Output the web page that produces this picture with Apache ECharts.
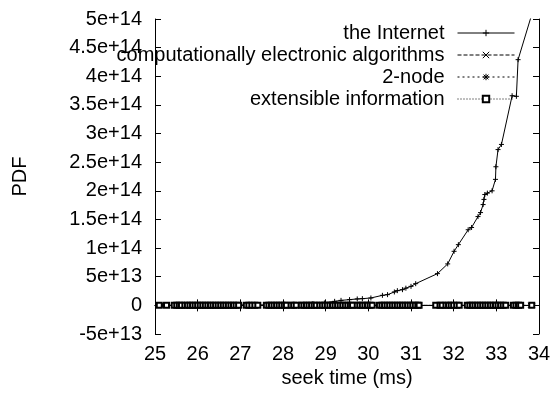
<!DOCTYPE html>
<html>
<head>
<meta charset="utf-8">
<script src="https://cdn.jsdelivr.net/npm/echarts@6/dist/echarts.min.js"></script>
<style>
  html, body { margin: 0; padding: 0; background: #fff; }
  #chart { width: 556px; height: 396px; }
</style>
</head>
<body>
<div id="chart"></div>
<script>
// series names as in the legend
var seriesNames = ['the Internet', 'computationally electronic algorithms', '2-node', 'extensible information'];

// the Internet: seek time (ms) and PDF
var internetX = [25.1, 25.6, 26.3, 27.0, 27.6, 28.0, 28.4, 28.7, 28.97, 29.21, 29.36, 29.56, 29.74, 29.86, 30.06,
  30.33, 30.45, 30.61, 30.68, 30.8, 30.88, 31.0, 31.11, 31.62, 31.86, 32.01, 32.11, 32.34, 32.42,
  32.57, 32.63, 32.69, 32.71, 32.73, 32.79, 32.9, 32.98, 32.99, 33.04, 33.12, 33.37, 33.47, 33.51, 33.92];
var internetY = [0.005e13, 0.01e13, 0.02e13, 0.04e13, 0.08e13, 0.12e13, 0.2e13, 0.3e13, 0.42e13, 0.7e13, 0.87e13, 1.0e13, 1.12e13, 1.17e13, 1.29e13,
  1.75e13, 1.87e13, 2.34e13, 2.57e13, 2.74e13, 3.0e13, 3.32e13, 3.79e13, 5.54e13, 7.24e13, 9.44e13, 10.6e13, 13.2e13, 13.6e13,
  15.5e13, 16.2e13, 17.6e13, 18.5e13, 19.35e13, 19.6e13, 20.0e13, 22.0e13, 24.2e13, 27.2e13, 28.1e13, 36.6e13, 36.5e13, 42.9e13, 53e13];

// the three flat series, all at PDF 0 (only seek times differ)
var algorithmsX = [25.13, 25.48, 25.58, 25.73, 25.85, 25.97, 26.09, 26.21, 26.33, 26.45, 26.57, 26.69, 26.81, 26.93,
  27.17, 27.30, 27.64, 27.76, 27.88, 28.00, 28.22, 28.46, 28.58, 28.70, 28.89, 29.01, 29.13, 29.25, 29.37, 29.49,
  29.61, 29.77, 29.89, 30.01, 30.29, 30.41, 30.53, 30.65, 30.77, 30.89, 31.01, 31.13, 31.62, 31.85, 31.97, 32.10,
  32.35, 32.47, 32.59, 32.71, 32.83, 32.95, 33.07, 33.19, 33.43, 33.55, 33.80];
var nodeX = [25.20, 25.54, 25.66, 25.79, 25.91, 26.03, 26.15, 26.27, 26.39, 26.51, 26.63, 26.75, 26.87, 26.99,
  27.24, 27.38, 27.70, 27.82, 27.94, 28.06, 28.28, 28.52, 28.64, 28.76, 28.95, 29.07, 29.19, 29.31, 29.43, 29.55,
  29.68, 29.83, 29.95, 30.07, 30.35, 30.47, 30.59, 30.71, 30.83, 30.95, 31.07, 31.17, 31.70, 31.91, 32.04, 32.41,
  32.53, 32.65, 32.77, 32.89, 33.01, 33.13, 33.49, 33.86];
var extensibleX = [25.10, 25.27, 25.45, 25.51, 25.57, 25.62, 25.70, 25.76, 25.82, 25.88, 25.94, 26.00, 26.06, 26.12,
  26.18, 26.24, 26.30, 26.36, 26.42, 26.48, 26.54, 26.60, 26.66, 26.72, 26.78, 26.84, 26.90, 26.96, 27.14, 27.20,
  27.27, 27.34, 27.41, 27.61, 27.67, 27.73, 27.79, 27.85, 27.91, 27.97, 28.03, 28.08, 28.19, 28.25, 28.31, 28.43,
  28.49, 28.55, 28.61, 28.67, 28.73, 28.78, 28.86, 28.92, 28.98, 29.04, 29.10, 29.16, 29.22, 29.28, 29.34, 29.40,
  29.46, 29.52, 29.58, 29.63, 29.74, 29.80, 29.86, 29.92, 29.98, 30.04, 30.09, 30.26, 30.32, 30.38, 30.44, 30.50,
  30.56, 30.62, 30.68, 30.74, 30.80, 30.86, 30.92, 30.98, 31.04, 31.10, 31.16, 31.19, 31.58, 31.68, 31.73, 31.82,
  31.88, 31.94, 32.00, 32.07, 32.13, 32.32, 32.38, 32.44, 32.50, 32.56, 32.62, 32.68, 32.74, 32.80, 32.86, 32.92,
  32.98, 33.04, 33.10, 33.16, 33.22, 33.40, 33.46, 33.52, 33.57, 33.83];

var PLUS = 'path://M0,4L8,4M4,0L4,8';
var CROSS = 'path://M0,0L8,8M8,0L0,8';
var STAR = 'path://M0,4L8,4M4,0L4,8M1,1L7,7M7,1L1,7';

function pairs(xs, ys) {
  return xs.map(function (x, i) { return [x, ys ? ys[i] : 0]; });
}

// gnuplot style tick labels: 5e+14, 4.5e+14, 0, -5e+13
function sci(v) {
  if (v === 0) return '0';
  var e = Math.floor(Math.log10(Math.abs(v)));
  var m = +(v / Math.pow(10, e)).toFixed(2);
  return m + 'e+' + e;
}

var FONT = 'Liberation Sans, Arial, Helvetica, sans-serif';
var black = '#000';

var chart = echarts.init(document.getElementById('chart'), null, { renderer: 'canvas' });

var tickIn = { show: true, inside: true, length: 6, lineStyle: { color: black, width: 1 } };

function lineSeries(name, data, symbol, size, dash, z) {
  return {
    name: name,
    type: 'line',
    data: data,
    symbol: symbol,
    symbolSize: size,
    showSymbol: true,
    z: z,
    color: black,
    itemStyle: { color: black, borderColor: black, borderWidth: 1 },
    lineStyle: { color: black, width: 1, type: dash },
    emphasis: { disabled: true }
  };
}

chart.setOption({
  animation: false,
  backgroundColor: '#fff',
  textStyle: { fontFamily: FONT },
  grid: { left: 155, right: 17, top: 19, bottom: 62 },
  legend: {
    orient: 'vertical',
    right: 41,
    top: 23,
    padding: 0,
    itemGap: 2,
    itemWidth: 57,
    itemHeight: 8,
    align: 'right',
    selectedMode: false,
    data: seriesNames,
    lineStyle: { width: 1 },
    itemStyle: { borderWidth: 1 },
    textStyle: { fontSize: 20, color: black, fontFamily: FONT, padding: [0, 8, 0, 0] }
  },
  xAxis: [{
    type: 'value',
    min: 25, max: 34, interval: 1,
    name: 'seek time (ms)',
    nameLocation: 'middle',
    nameGap: 34,
    nameTextStyle: { fontSize: 20, color: black },
    axisLine: { show: true, lineStyle: { color: black, width: 1 } },
    axisTick: tickIn,
    axisLabel: { fontSize: 20, color: black, margin: 10 },
    splitLine: { show: false }
  }, {
    type: 'value',
    position: 'top',
    min: 25, max: 34, interval: 1,
    axisLine: { show: true, lineStyle: { color: black, width: 1 } },
    axisTick: tickIn,
    axisLabel: { show: false },
    splitLine: { show: false }
  }],
  yAxis: [{
    type: 'value',
    min: -5e13, max: 5e14, interval: 5e13,
    name: 'PDF',
    nameLocation: 'middle',
    nameGap: 125,
    nameTextStyle: { fontSize: 20, color: black },
    axisLine: { show: true, lineStyle: { color: black, width: 1 } },
    axisTick: tickIn,
    axisLabel: { fontSize: 20, color: black, margin: 13, formatter: sci },
    splitLine: { show: false }
  }, {
    type: 'value',
    position: 'right',
    min: -5e13, max: 5e14, interval: 5e13,
    axisLine: { show: true, lineStyle: { color: black, width: 1 } },
    axisTick: tickIn,
    axisLabel: { show: false },
    splitLine: { show: false }
  }],
  series: [
    lineSeries(seriesNames[0], pairs(internetX, internetY), PLUS, 5, 'solid', 2),
    lineSeries(seriesNames[1], pairs(algorithmsX), CROSS, 5, [4, 2], 3),
    lineSeries(seriesNames[2], pairs(nodeX), STAR, 5, [2, 3], 4),
    lineSeries(seriesNames[3], pairs(extensibleX), 'emptyRect', 5, [1, 2], 5)
  ]
});
</script>
</body>
</html>
